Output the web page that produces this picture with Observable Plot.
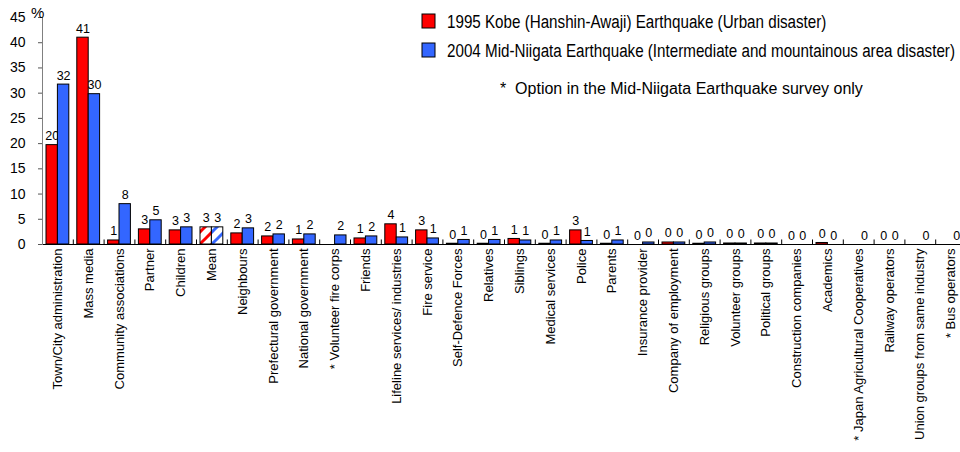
<!DOCTYPE html>
<html><head><meta charset="utf-8">
<script src="https://cdn.jsdelivr.net/npm/d3@7"></script>
<script src="https://cdn.jsdelivr.net/npm/@observablehq/plot@0.6"></script>
<style>
body{margin:0;background:#fff;}
#chart svg{display:block;}
</style></head><body><div id="chart"></div>
<script>
const categories = ["Town/City administration","Mass media","Community associations","Partner","Children","Mean","Neighbours","Prefectural government","National government","* Volunteer fire corps","Friends","Lifeline services/ industries","Fire service","Self-Defence Forces","Relatives","Siblings","Medical services","Police","Parents","Insurance provider","Company of employment","Religious groups","Volunteer groups","Political groups","Construction companies","Academics","* Japan Agricultural Cooperatives","Railway operators","Union groups from same industry","* Bus operators"];
const kobe = [19.7, 41.0, 0.8, 3.0, 2.8, 3.4, 2.2, 1.6, 1.0, null, 1.2, 4.0, 2.8, 0.15, 0.15, 1.1, 0.15, 2.8, 0.15, 0, 0.4, 0.15, 0.2, 0.2, 0, 0.3, null, 0, null, null];
const niigata = [31.7, 29.8, 8.0, 4.8, 3.4, 3.4, 3.2, 2.0, 2.0, 1.8, 1.6, 1.4, 1.2, 0.9, 0.9, 0.8, 0.8, 0.7, 0.8, 0.4, 0.4, 0.4, 0.2, 0.2, 0, 0, 0, 0, 0, 0];
const seriesNames = ["1995 Kobe (Hanshin-Awaji) Earthquake (Urban disaster)", "2004 Mid-Niigata Earthquake (Intermediate and mountainous area disaster)"];
const colors = ["#ff0000", "#3366ff"];
const hatchedCategories = ["Mean"];
const yTicks = [0, 5, 10, 15, 20, 25, 30, 35, 40, 45];
const yUnit = "%";
const note = "*  Option in the Mid-Niigata Earthquake survey only";

const rows = [];
categories.forEach((c, i) => {
  rows.push({cat: c, series: 0, value: kobe[i]});
  rows.push({cat: c, series: 1, value: niigata[i]});
});
const data = rows.filter(d => d.value != null);
const plain = d => !hatchedCategories.includes(d.cat);
const bw = 30.8, half = bw / 2;
const inset = [{insetLeft: 4, insetRight: half}, {insetLeft: half, insetRight: 4}];
const dxs = [-5.7, 5.7];
const hatchIds = ["hatchRed", "hatchBlue"];

const barMarks = [];
[0, 1].forEach(s => {
  const sd = data.filter(d => d.series === s);
  barMarks.push(Plot.barY(sd.filter(plain), {x: "cat", y: "value", fill: colors[s], stroke: "black", strokeWidth: 1, ...inset[s]}));
  barMarks.push(Plot.barY(sd.filter(d => !plain(d)), {x: "cat", y: "value", fill: `url(#${hatchIds[s]})`, stroke: "black", strokeWidth: 1, ...inset[s]}));
  barMarks.push(Plot.text(sd, {x: "cat", y: "value", text: d => Math.round(d.value), dx: dxs[s], dy: -5, lineAnchor: "bottom", fontSize: 12.5, fill: "black"}));
});

const plot = Plot.plot({
  width: 960, height: 452,
  marginLeft: 42, marginRight: 0, marginTop: 17, marginBottom: 208,
  style: {fontFamily: "'Liberation Sans', Arial, sans-serif", fontSize: "12px", background: "white", color: "black"},
  x: {type: "band", domain: categories, range: [42, 42 + bw * categories.length], padding: 0, round: false},
  y: {domain: [0, 45]},
  marks: [
    ...barMarks,
    Plot.ruleY([0], {stroke: "black", strokeWidth: 1.2}),
    Plot.ruleX(categories, {x: d => d, y1: 0, y2: 0.9, dx: -half, stroke: "black"}),
    Plot.frame({anchor: "left", stroke: "#808080"}),
    Plot.axisY({ticks: yTicks, tickSize: 4, tickPadding: 13, fontSize: 14, label: null, stroke: "#555"}),
    Plot.axisX({tickRotate: -90, tickSize: 0, tickPadding: 4, fontSize: 13, label: null, style: {letterSpacing: "0.4px"}})
  ]
});
document.getElementById("chart").appendChild(plot);

const svg = d3.select(plot);
const defs = svg.insert("defs", ":first-child");
[0, 1].forEach(s => {
  const p = defs.append("pattern").attr("id", hatchIds[s]).attr("patternUnits", "userSpaceOnUse").attr("width", 12).attr("height", 12);
  p.append("rect").attr("width", 12).attr("height", 12).attr("fill", "white");
  p.append("path").attr("d", "M-3,3 L3,-3 M0,12 L12,0 M9,15 L15,9").attr("stroke", colors[s]).attr("stroke-width", 3);
});

const g = svg.append("g").attr("font-family", "'Liberation Sans', Arial, sans-serif").attr("text-anchor", "start");
seriesNames.forEach((name, s) => {
  g.append("rect").attr("x", 422).attr("y", 14 + s * 29).attr("width", 13).attr("height", 14).attr("fill", colors[s]).attr("stroke", "black");
  g.append("text").attr("transform", `translate(447,${28 + s * 29}) scale(1,1.2)`).attr("font-size", 15.2).text(name);
});
g.append("text").attr("x", 500).attr("y", 94).attr("font-size", 16).style("white-space", "pre").text(note);
g.append("text").attr("x", 31).attr("y", 18).attr("font-size", 15).text(yUnit);
</script></body></html>
